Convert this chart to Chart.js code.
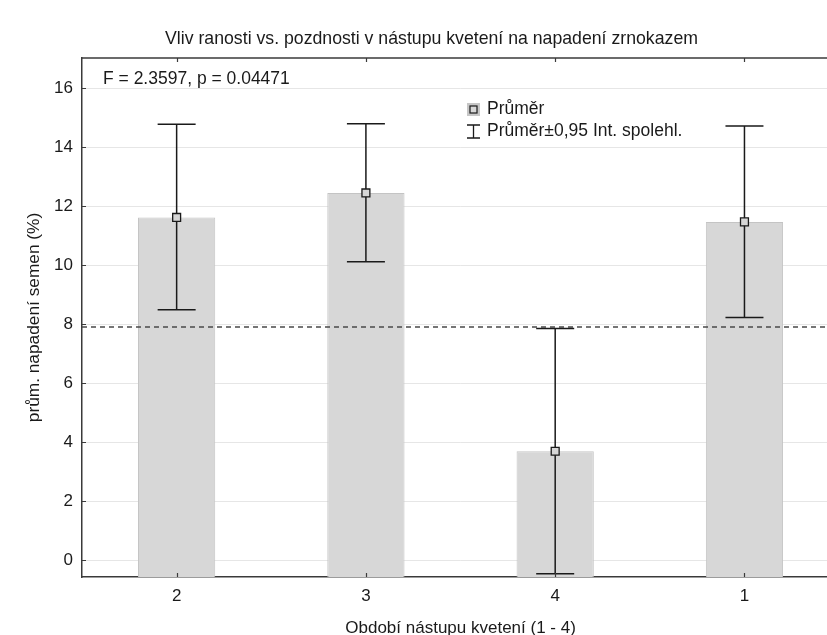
<!DOCTYPE html>
<html>
<head>
<meta charset="utf-8">
<script src="https://cdn.jsdelivr.net/npm/chart.js@4"></script>
<style>
  html, body { margin: 0; padding: 0; background: #fff; }
  #wrap { width: 827px; height: 635px; overflow: hidden; position: relative; }
  canvas { display: block; }
</style>
</head>
<body>
<div id="wrap"><canvas id="c" width="846" height="640"></canvas></div>
<script>
const FONT = '"Liberation Sans", Arial, sans-serif';

// ---- data ----
const categories = ['2', '3', '4', '1'];
const means      = [11.62, 12.45, 3.70, 11.47];
const ciLower    = [8.49, 10.12, -0.45, 8.23];
const ciUpper    = [14.78, 14.79, 7.86, 14.72];
const overallMean = 7.91;
const yTicks = [0, 2, 4, 6, 8, 10, 12, 14, 16];
const yMin = -0.56, yMax = 17.02;
const chartTitle = 'Vliv ranosti vs. pozdnosti v nástupu kvetení na napadení zrnokazem';
const xTitle = 'Období nástupu kvetení (1 - 4)';
const yTitle = 'prům. napadení semen (%)';
const statText = 'F = 2.3597, p = 0.04471';
const legendLabels = ['Průměr', 'Průměr±0,95 Int. spolehl.'];

const INK = '#1a1a1a';
const AXIS = '#3a3a3a';
const BAR = '#d7d7d7';

const decor = {
  id: 'decor',
  afterDatasetDraw(chart, args) {
    if (args.index !== 0) return;
    const ctx = chart.ctx, x = chart.scales.x, y = chart.scales.y, ca = chart.chartArea;
    ctx.save();
    // overall mean dashed line
    const ym = y.getPixelForValue(overallMean);
    ctx.strokeStyle = '#4a4a4a';
    ctx.lineWidth = 1.6;
    ctx.setLineDash([5, 4]);
    ctx.beginPath(); ctx.moveTo(ca.left, ym); ctx.lineTo(ca.right, ym); ctx.stroke();
    ctx.setLineDash([]);
    // error bars
    ctx.strokeStyle = INK;
    ctx.lineWidth = 1.5;
    const half = 19;
    categories.forEach((c, i) => {
      const px = x.getPixelForValue(i);
      const lo = y.getPixelForValue(ciLower[i]);
      const hi = y.getPixelForValue(ciUpper[i]);
      ctx.beginPath();
      ctx.moveTo(px, lo); ctx.lineTo(px, hi);
      ctx.moveTo(px - half, lo); ctx.lineTo(px + half, lo);
      ctx.moveTo(px - half, hi); ctx.lineTo(px + half, hi);
      ctx.stroke();
    });
    ctx.restore();
  },
  afterDraw(chart) {
    const ctx = chart.ctx, x = chart.scales.x, y = chart.scales.y, ca = chart.chartArea;
    ctx.save();
    // top frame line
    ctx.strokeStyle = AXIS;
    ctx.lineWidth = 1.5;
    ctx.beginPath(); ctx.moveTo(ca.left, ca.top); ctx.lineTo(ca.right, ca.top); ctx.stroke();
    // inside tick marks
    ctx.lineWidth = 1.2;
    ctx.beginPath();
    categories.forEach((c, i) => {
      const px = Math.round(x.getPixelForValue(i)) + 0.5;
      ctx.moveTo(px, ca.bottom); ctx.lineTo(px, ca.bottom - 4);
      ctx.moveTo(px, ca.top); ctx.lineTo(px, ca.top + 4);
    });
    yTicks.forEach(v => {
      const py = Math.round(y.getPixelForValue(v)) + 0.5;
      ctx.moveTo(ca.left, py); ctx.lineTo(ca.left + 4, py);
    });
    ctx.stroke();
    // statistic text
    ctx.fillStyle = INK;
    ctx.font = '17.5px ' + FONT;
    ctx.textBaseline = 'middle';
    ctx.textAlign = 'left';
    ctx.fillText(statText, 103, 79);
    // legend
    ctx.fillStyle = '#c6c6c6';
    ctx.fillRect(467, 103, 13, 13);
    ctx.fillStyle = BAR;
    ctx.strokeStyle = INK;
    ctx.lineWidth = 1.2;
    ctx.fillRect(470, 106, 7, 7);
    ctx.strokeRect(470, 106, 7, 7);
    ctx.lineWidth = 1.3;
    ctx.beginPath();
    ctx.moveTo(473.5, 125); ctx.lineTo(473.5, 138);
    ctx.moveTo(467, 125); ctx.lineTo(480, 125);
    ctx.moveTo(467, 138); ctx.lineTo(480, 138);
    ctx.stroke();
    ctx.fillStyle = INK;
    ctx.fillText(legendLabels[0], 487, 109);
    ctx.fillText(legendLabels[1], 487, 131);
    ctx.restore();
  }
};

new Chart(document.getElementById('c'), {
  data: {
    labels: categories,
    datasets: [
      {
        type: 'bar',
        label: 'bars',
        data: means,
        base: yMin,
        backgroundColor: BAR,
        borderColor: '#c4c4c4',
        borderWidth: 1,
        barPercentage: 0.408,
        categoryPercentage: 1,
        order: 2
      },
      {
        type: 'line',
        label: legendLabels[0],
        data: means,
        showLine: false,
        pointStyle: 'rect',
        pointRadius: 5.6,
        pointBackgroundColor: BAR,
        pointBorderColor: INK,
        pointBorderWidth: 1.3,
        order: 1
      }
    ]
  },
  options: {
    responsive: false,
    animation: false,
    layout: { padding: { left: 17, right: 0, top: 0, bottom: 0 } },
    plugins: {
      legend: { display: false },
      tooltip: { enabled: false },
      title: {
        display: true,
        text: chartTitle,
        color: INK,
        font: { family: FONT, size: 17.7, weight: 'normal', lineHeight: 1.2 },
        padding: { top: 28.5, bottom: 8.3 }
      }
    },
    scales: {
      x: {
        type: 'category',
        offset: true,
        grid: { display: false, drawTicks: false },
        border: { display: true, color: AXIS, width: 1.5 },
        ticks: { color: INK, font: { family: FONT, size: 17 }, padding: 9.5 },
        title: {
          display: true, text: xTitle, color: INK,
          font: { family: FONT, size: 17 },
          padding: { top: 0, bottom: 1.5 }
        },
        afterFit(s) { s.height = 63; }
      },
      y: {
        type: 'linear',
        min: yMin,
        max: yMax,
        afterBuildTicks(s) { s.ticks = yTicks.map(v => ({ value: v })); },
        grid: { color: '#e6e6e6', lineWidth: 1, drawTicks: false },
        border: { display: true, color: AXIS, width: 1.5 },
        ticks: { color: INK, font: { family: FONT, size: 17 }, padding: 9 },
        title: {
          display: true, text: yTitle, color: INK,
          font: { family: FONT, size: 17.3 },
          padding: { top: 7, bottom: 0 }
        },
        afterFit(s) { s.width = 65; }
      }
    }
  },
  plugins: [decor]
});
</script>
</body>
</html>
